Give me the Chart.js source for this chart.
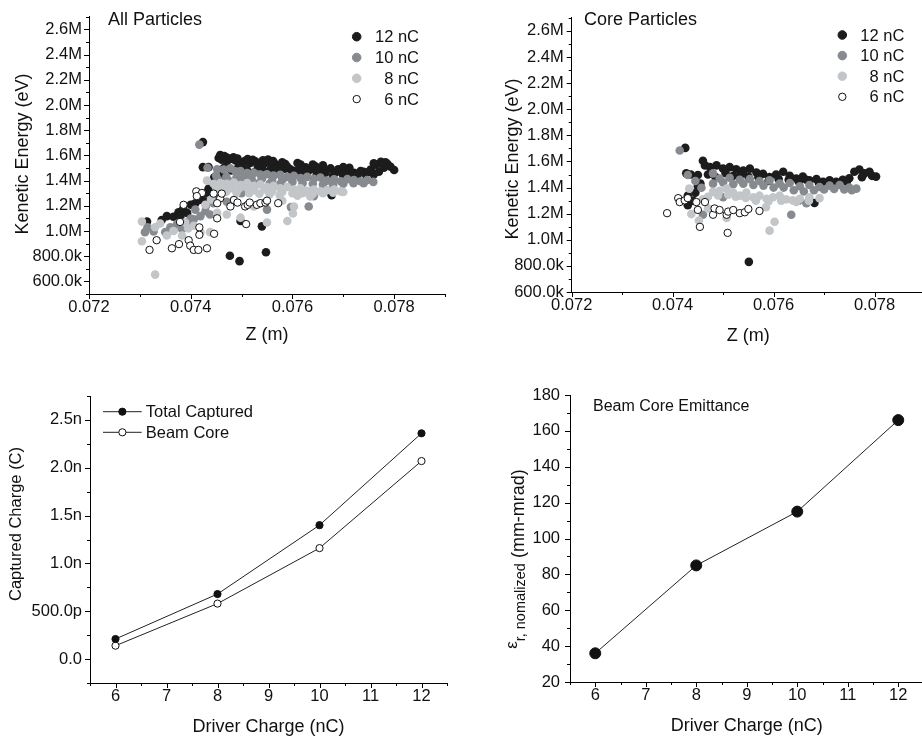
<!DOCTYPE html>
<html><head><meta charset="utf-8">
<script src="https://cdn.jsdelivr.net/npm/chart.js@4/dist/chart.umd.min.js"></script>
<style>
html,body{margin:0;padding:0;background:#fff;}
body{width:922px;height:742px;overflow:hidden;position:relative;}
canvas{position:absolute;}
</style></head><body>
<canvas id="cAll" width="460" height="350" style="left:0px;top:0px"></canvas>
<canvas id="cCore" width="470" height="350" style="left:460px;top:0px"></canvas>
<canvas id="cCharge" width="460" height="372" style="left:0px;top:370px"></canvas>
<canvas id="cEmit" width="470" height="372" style="left:460px;top:370px"></canvas>
<script>
// ---------------- DATA ----------------
const seriesLabels = ['12 nC', '10 nC', '8 nC', '6 nC'];

// All particles: [z (m), kinetic energy (MeV)]
const all12nC = [
[0.07314,1.075],[0.07343,1.088],[0.07353,1.118],[0.07366,1.113],[0.07376,1.149],[0.07385,1.175],[0.07393,1.144],[0.07400,1.208],[0.07409,1.221],[0.07417,1.246],[0.07427,1.297],[0.07435,1.336],[0.07445,1.354],[0.07432,1.233],[0.07446,1.425],[0.07455,1.412],[0.07380,1.120],[0.07420,1.260],[0.07438,1.300],
[0.07424,1.706],[0.07424,1.507],[0.07435,1.507],[0.07458,1.604],[0.07461,1.566],[0.07471,1.553],[0.07478,1.573],[0.07488,1.560],[0.07498,1.545],[0.07507,1.558],[0.07517,1.540],[0.07527,1.553],[0.07537,1.530],[0.07547,1.540],[0.07557,1.553],[0.07567,1.530],[0.07576,1.510],[0.07586,1.532],[0.07596,1.490],[0.07606,1.478],[0.07616,1.527],[0.07626,1.505],[0.07636,1.490],[0.07645,1.514],[0.07655,1.478],[0.07665,1.463],[0.07675,1.497],[0.07685,1.465],[0.07695,1.476],[0.07708,1.489],[0.07721,1.463],[0.07734,1.476],[0.07744,1.451],[0.07754,1.489],[0.07764,1.527],[0.07774,1.550],[0.07780,1.502],[0.07787,1.532],[0.07800,1.484],
[0.07465,1.500],[0.07480,1.480],[0.07494,1.510],[0.07510,1.490],[0.07524,1.465],[0.07540,1.500],[0.07555,1.480],[0.07570,1.470],[0.07585,1.495],[0.07600,1.465],[0.07615,1.460],[0.07630,1.470],[0.07648,1.450],[0.07662,1.480],[0.07680,1.440],[0.07700,1.440],[0.07715,1.455],[0.07728,1.445],[0.07740,1.470],[0.07760,1.450],[0.07770,1.470],[0.07793,1.510],
[0.07500,1.525],[0.07532,1.515],[0.07560,1.515],[0.07590,1.510],[0.07620,1.490],[0.07650,1.495],[0.07690,1.490],[0.07750,1.470],[0.07470,1.585],[0.07455,1.580],[0.07450,1.415],[0.07460,1.440],
[0.07466,1.595],[0.07484,1.585],[0.07492,1.575],[0.07512,1.572],[0.07522,1.566],[0.07542,1.562],[0.07552,1.568],[0.07562,1.556],[0.07580,1.545],[0.07610,1.540],[0.07640,1.528],[0.07660,1.522],[0.07700,1.508],[0.07712,1.502],[0.07760,1.538],[0.07783,1.546],[0.07777,1.528],
[0.07498,1.080],[0.07540,1.037],[0.07477,0.804],[0.07496,0.761],[0.07548,0.832],[0.07677,1.285]
];
const all10nC = [
[0.07417,1.686],
[0.07310,0.991],[0.07327,0.996],[0.07315,1.030],[0.07350,0.991],[0.07366,1.004],[0.07383,1.016],[0.07373,1.055],[0.07393,1.067],[0.07406,1.093],[0.07419,1.118],[0.07409,1.170],[0.07429,1.157],[0.07438,1.131],[0.07445,1.221],[0.07400,1.100],[0.07360,1.030],[0.07455,1.260],[0.07430,1.200],
[0.07433,1.502],[0.07452,1.490],[0.07465,1.489],[0.07478,1.497],[0.07488,1.475],[0.07498,1.476],[0.07511,1.460],[0.07524,1.463],[0.07537,1.448],[0.07550,1.451],[0.07563,1.440],[0.07576,1.446],[0.07590,1.430],[0.07603,1.438],[0.07616,1.420],[0.07629,1.430],[0.07642,1.415],[0.07655,1.425],[0.07668,1.400],[0.07682,1.410],[0.07695,1.395],[0.07708,1.412],[0.07721,1.405],[0.07734,1.395],[0.07747,1.405],[0.07759,1.390],
[0.07450,1.440],[0.07470,1.430],[0.07490,1.425],[0.07505,1.430],[0.07520,1.410],[0.07540,1.415],[0.07560,1.400],[0.07580,1.405],[0.07600,1.390],[0.07620,1.380],[0.07640,1.375],[0.07660,1.370],[0.07680,1.365],[0.07700,1.375],[0.07720,1.380],[0.07740,1.380],
[0.07455,1.405],[0.07475,1.398],[0.07495,1.392],[0.07515,1.388],[0.07535,1.383],[0.07555,1.375],[0.07575,1.370],
[0.07597,1.190],[0.07632,1.195],[0.07550,1.170],[0.07471,1.233],[0.07485,1.246],[0.07537,1.221],[0.07642,1.277],[0.07500,1.300],[0.07460,1.330]
];
const all8nC = [
[0.07330,0.654],[0.07304,0.919],[0.07304,1.075],[0.07330,1.030],[0.07353,0.965],[0.07366,1.000],[0.07383,0.965],[0.07389,1.067],[0.07406,1.042],[0.07419,0.991],[0.07438,0.991],[0.07395,1.020],[0.07340,1.060],
[0.07432,1.400],[0.07445,1.375],[0.07458,1.380],[0.07471,1.375],[0.07485,1.385],[0.07498,1.365],[0.07511,1.380],[0.07524,1.360],[0.07537,1.370],[0.07550,1.350],[0.07563,1.360],[0.07576,1.340],[0.07590,1.350],[0.07603,1.330],[0.07616,1.340],[0.07629,1.320],[0.07642,1.330],[0.07655,1.315],[0.07668,1.325],[0.07682,1.330],[0.07695,1.315],
[0.07450,1.345],[0.07465,1.350],[0.07480,1.340],[0.07495,1.335],[0.07510,1.345],[0.07525,1.325],[0.07545,1.330],[0.07560,1.315],[0.07580,1.310],[0.07600,1.300],[0.07620,1.300],[0.07640,1.295],[0.07660,1.300],[0.07680,1.305],[0.07700,1.310],
[0.07470,1.312],[0.07490,1.305],[0.07515,1.300],[0.07535,1.296],[0.07555,1.290],[0.07575,1.285],[0.07610,1.280],[0.07635,1.275],
[0.07429,1.208],[0.07452,1.144],[0.07471,1.131],[0.07498,1.106],[0.07550,1.067],[0.07590,1.080],[0.07601,1.139],[0.07603,1.195],[0.07524,1.195],[0.07440,1.250],[0.07580,1.240],[0.07460,1.300]
];
const all6nC = [
[0.07319,0.850],[0.07333,0.927],[0.07363,0.863],[0.07377,0.896],[0.07396,0.927],[0.07399,0.884],[0.07406,0.850],[0.07415,0.850],[0.07432,0.863],[0.07379,1.072],[0.07386,1.208],[0.07411,1.315],[0.07422,1.302],[0.07412,1.277],[0.07417,1.029],[0.07417,0.970],[0.07446,0.978],[0.07452,1.101],[0.07445,1.297],[0.07458,1.259],[0.07452,1.221],[0.07461,1.297],[0.07478,1.195],[0.07485,1.246],[0.07492,1.226],[0.07507,1.195],[0.07512,1.208],[0.07516,1.226],[0.07530,1.208],[0.07537,1.221],[0.07547,1.226],[0.07550,1.241],[0.07572,1.221],[0.07509,1.055]
];

// Core particles: [z (m), kinetic energy (MeV)]
const core12nC = [
[0.07425,1.704],[0.07427,1.509],[0.07436,1.500],[0.07460,1.606],[0.07464,1.570],[0.07450,1.496],[0.07450,1.411],[0.07430,1.338],[0.07430,1.265],[0.07440,1.300],[0.07445,1.360],[0.07455,1.430],
[0.07474,1.557],[0.07487,1.570],[0.07500,1.545],[0.07513,1.557],[0.07526,1.540],[0.07540,1.530],[0.07553,1.545],[0.07566,1.515],[0.07579,1.505],[0.07592,1.480],[0.07605,1.500],[0.07619,1.521],[0.07632,1.490],[0.07645,1.470],[0.07658,1.484],[0.07671,1.455],[0.07685,1.465],[0.07698,1.445],[0.07711,1.455],[0.07724,1.445],[0.07737,1.460],[0.07750,1.472],[0.07760,1.521],[0.07770,1.538],[0.07780,1.509],[0.07790,1.521],[0.07803,1.484],
[0.07470,1.500],[0.07485,1.480],[0.07505,1.510],[0.07520,1.490],[0.07535,1.500],[0.07550,1.485],[0.07570,1.480],[0.07590,1.450],[0.07610,1.465],[0.07630,1.460],[0.07650,1.445],[0.07665,1.460],[0.07690,1.435],[0.07720,1.430],[0.07745,1.445],[0.07775,1.480],[0.07795,1.490],
[0.07681,1.282],[0.07551,0.831]
];
const core10nC = [
[0.07414,1.684],[0.07430,1.496],[0.07457,1.399],[0.07460,1.192],[0.07480,1.509],[0.07500,1.326],[0.07635,1.192],[0.07445,1.450],
[0.07493,1.470],[0.07513,1.475],[0.07533,1.460],[0.07553,1.465],[0.07572,1.450],[0.07592,1.455],[0.07612,1.430],[0.07632,1.435],[0.07652,1.410],[0.07671,1.420],[0.07691,1.405],[0.07711,1.415],[0.07731,1.420],[0.07750,1.400],[0.07764,1.392],
[0.07480,1.430],[0.07500,1.440],[0.07520,1.425],[0.07540,1.430],[0.07560,1.420],[0.07580,1.415],[0.07600,1.400],[0.07620,1.400],[0.07640,1.380],[0.07660,1.370],[0.07680,1.380],[0.07700,1.385],[0.07720,1.390],[0.07740,1.385],[0.07755,1.380],
[0.07650,1.300],[0.07665,1.280]
];
const core8nC = [
[0.07433,1.392],[0.07437,1.197],[0.07452,1.148],[0.07470,1.240],[0.07507,1.168],[0.07592,1.070],[0.07602,1.138],[0.07585,1.250],
[0.07480,1.367],[0.07493,1.375],[0.07507,1.392],[0.07520,1.362],[0.07533,1.338],[0.07546,1.362],[0.07560,1.326],[0.07572,1.338],[0.07586,1.314],[0.07599,1.326],[0.07612,1.338],[0.07625,1.310],[0.07638,1.302],[0.07652,1.314],[0.07671,1.326],[0.07691,1.319],
[0.07490,1.340],[0.07510,1.345],[0.07525,1.330],[0.07545,1.320],[0.07565,1.300],[0.07590,1.295],[0.07615,1.300],[0.07645,1.290],[0.07670,1.300],[0.07470,1.330],[0.07460,1.310]
];
const core6nC = [
[0.07389,1.204],[0.07411,1.319],[0.07414,1.289],[0.07424,1.302],[0.07430,1.319],[0.07447,1.289],[0.07450,1.229],[0.07454,1.099],[0.07464,1.289],[0.07480,1.192],[0.07483,1.240],[0.07493,1.228],[0.07507,1.192],[0.07510,1.216],[0.07520,1.228],[0.07533,1.204],[0.07543,1.211],[0.07550,1.236],[0.07572,1.221],[0.07509,1.053]
];

// Captured charge vs driver charge
const driverCharge = [6, 8, 10, 12];               // nC
const totalCaptured = [2.1e-10, 6.8e-10, 1.40e-9, 2.36e-9]; // C
const beamCore = [1.4e-10, 5.8e-10, 1.16e-9, 2.07e-9];      // C
// Beam core emittance
const coreEmittance = [36, 85, 115, 166];          // mm-mrad

// Tick labels
const zTickValues = [0.072, 0.074, 0.076, 0.078];
const zTickLabels = ['0.072', '0.074', '0.076', '0.078'];
const eTickValues = [6e5, 8e5, 1e6, 1.2e6, 1.4e6, 1.6e6, 1.8e6, 2e6, 2.2e6, 2.4e6, 2.6e6];
const eTickLabels = ['600.0k', '800.0k', '1.0M', '1.2M', '1.4M', '1.6M', '1.8M', '2.0M', '2.2M', '2.4M', '2.6M'];
const driverTickValues = [6, 7, 8, 9, 10, 11, 12];
const driverTickLabels = ['6', '7', '8', '9', '10', '11', '12'];
const qTickValues = [0, 5e-10, 1e-9, 1.5e-9, 2e-9, 2.5e-9];
const qTickLabels = ['0.0', '500.0p', '1.0n', '1.5n', '2.0n', '2.5n'];
const emitTickValues = [20, 40, 60, 80, 100, 120, 140, 160, 180];
const emitTickLabels = ['20', '40', '60', '80', '100', '120', '140', '160', '180'];

// ---------------- HELPERS ----------------
const FONT = '"Liberation Sans", Arial, Helvetica, sans-serif';
const INK = '#111';
const TICK_SIZE = 16.5;
Chart.defaults.font.family = FONT;
Chart.defaults.color = INK;

function labeler(vals, labels, step) {
  return v => {
    for (let i = 0; i < vals.length; i++) if (Math.abs(v - vals[i]) < step * 0.01) return labels[i];
    return '';
  };
}
const toXY = arr => arr.map(p => ({ x: p[0], y: p[1] * 1e6 }));
const pairs = (xs, ys) => xs.map((x, i) => ({ x: x, y: ys[i] }));

const axisTicks = {
  id: 'axisTicks',
  afterDraw(chart) {
    const ctx = chart.ctx, a = chart.chartArea;
    const xs = chart.scales.x, ys = chart.scales.y;
    ctx.save();
    ctx.strokeStyle = '#000'; ctx.lineWidth = 1;
    xs.ticks.forEach(t => {
      const p = Math.round(xs.getPixelForValue(t.value)) + 0.5;
      const L = t.label ? 5 : 3;
      ctx.beginPath(); ctx.moveTo(p, a.bottom); ctx.lineTo(p, a.bottom + L); ctx.stroke();
    });
    ys.ticks.forEach(t => {
      const p = Math.round(ys.getPixelForValue(t.value)) + 0.5;
      const L = t.label ? 5 : 3;
      ctx.beginPath(); ctx.moveTo(a.left - L, p); ctx.lineTo(a.left, p); ctx.stroke();
    });
    ctx.restore();
  }
};

const dotLegend = {
  id: 'dotLegend',
  afterDraw(chart, args, o) {
    if (!o || !o.show) return;
    const ctx = chart.ctx;
    ctx.save();
    ctx.font = o.size + 'px ' + FONT;
    ctx.textAlign = 'right'; ctx.textBaseline = 'middle'; ctx.fillStyle = INK;
    chart.data.datasets.forEach((ds, i) => {
      const y = o.y0 + i * o.dy;
      ctx.beginPath();
      ctx.arc(o.markerX, y, ds.pointRadius, 0, Math.PI * 2);
      ctx.fillStyle = ds.backgroundColor; ctx.fill();
      ctx.lineWidth = ds.borderWidth || 1; ctx.strokeStyle = ds.borderColor; ctx.stroke();
      ctx.fillStyle = INK;
      ctx.fillText(ds.label, o.textRight, y + 1);
    });
    ctx.restore();
  }
};

const lineLegend = {
  id: 'lineLegend',
  afterDraw(chart, args, o) {
    if (!o || !o.show) return;
    const ctx = chart.ctx;
    ctx.save();
    ctx.font = o.size + 'px ' + FONT;
    ctx.textAlign = 'left'; ctx.textBaseline = 'middle';
    chart.data.datasets.forEach((ds, i) => {
      const y = o.y0 + i * o.dy;
      ctx.strokeStyle = ds.borderColor; ctx.lineWidth = ds.borderWidth;
      ctx.beginPath(); ctx.moveTo(o.x0, y); ctx.lineTo(o.x1, y); ctx.stroke();
      ctx.beginPath(); ctx.arc((o.x0 + o.x1) / 2, y, ds.pointRadius, 0, Math.PI * 2);
      ctx.fillStyle = ds.pointBackgroundColor; ctx.fill();
      ctx.lineWidth = 1; ctx.strokeStyle = ds.pointBorderColor; ctx.stroke();
      ctx.fillStyle = INK;
      ctx.fillText(ds.label, o.textX, y + 1);
    });
    ctx.restore();
  }
};

const panelText = {
  id: 'panelText',
  afterDraw(chart, args, o) {
    if (!o || !o.text) return;
    const ctx = chart.ctx;
    ctx.save();
    ctx.font = o.size + 'px ' + FONT;
    ctx.fillStyle = INK; ctx.textAlign = 'left'; ctx.textBaseline = 'middle';
    ctx.fillText(o.text, o.x, o.y);
    ctx.restore();
  }
};

const yTitle = {
  id: 'yTitle',
  afterDraw(chart, args, o) {
    if (!o || !o.parts) return;
    const ctx = chart.ctx;
    ctx.save();
    ctx.fillStyle = INK; ctx.textAlign = 'left'; ctx.textBaseline = 'alphabetic';
    let total = 0;
    o.parts.forEach(p => { ctx.font = p.size + 'px ' + FONT; total += ctx.measureText(p.text).width; });
    ctx.translate(o.x, o.cy);
    ctx.rotate(-Math.PI / 2);
    let x = -total / 2;
    o.parts.forEach(p => { ctx.font = p.size + 'px ' + FONT; ctx.fillText(p.text, x, p.dy || 0); x += ctx.measureText(p.text).width; });
    ctx.restore();
  }
};

const PLUGINS = [axisTicks, dotLegend, lineLegend, panelText, yTitle];

const seriesStyles = [
  { backgroundColor: '#1c1c1c', borderColor: '#1c1c1c', borderWidth: 0, pointRadius: 4.3, order: 4 },
  { backgroundColor: '#878b90', borderColor: '#878b90', borderWidth: 0, pointRadius: 4.3, order: 3 },
  { backgroundColor: '#c3c6c9', borderColor: '#c3c6c9', borderWidth: 0, pointRadius: 4.3, order: 2 },
  { backgroundColor: '#ffffff', borderColor: '#111111', borderWidth: 1, pointRadius: 3.7, order: 1 }
];

function linearAxis(min, max, step, vals, labels, fitKey, fitVal, tickPad, title) {
  const ax = {
    type: 'linear', min: min, max: max,
    grid: { display: false, drawTicks: false },
    border: { display: true, color: '#000', width: 1 },
    ticks: { stepSize: step, autoSkip: false, maxRotation: 0, padding: tickPad,
             font: { size: TICK_SIZE }, color: INK, callback: labeler(vals, labels, step) },
    afterFit: s => { s[fitKey] = fitVal; }
  };
  if (title) ax.title = { display: true, text: title.text, font: { size: 18 }, color: INK, padding: { top: 0, bottom: title.pb } };
  return ax;
}

function scatterChart(id, sets, yMin, lay) {
  new Chart(document.getElementById(id), {
    type: 'scatter',
    data: {
      datasets: sets.map((s, i) => Object.assign({ label: seriesLabels[i], data: toXY(s), pointHoverRadius: 4 }, seriesStyles[i]))
    },
    options: {
      responsive: false, animation: false, devicePixelRatio: 1,
      layout: { padding: lay.padding },
      scales: {
        x: linearAxis(0.072, 0.079, 0.001, zTickValues, zTickLabels, 'height', lay.xh, 4, { text: 'Z (m)', pb: lay.xpb }),
        y: linearAxis(yMin, 2.7e6, 1e5, eTickValues, eTickLabels, 'width', lay.yw, lay.ypad, null)
      },
      plugins: {
        legend: { display: false }, tooltip: { enabled: false },
        dotLegend: lay.legend,
        panelText: lay.panel,
        yTitle: lay.ytitle
      }
    },
    plugins: PLUGINS
  });
}

scatterChart('cAll', [all12nC, all10nC, all8nC, all6nC], 5e5, {
  padding: { left: 0, top: 6, right: 15, bottom: 0 }, xh: 56, yw: 89, ypad: 7, xpb: 4,
  legend: { show: true, markerX: 356.7, textRight: 419, y0: 36.7, dy: 20.8, size: 16.5 },
  panel: { text: 'All Particles', x: 108, y: 20, size: 18 },
  ytitle: { x: 28, cy: 154, parts: [{ text: 'Kenetic Energy (eV)', size: 18 }] }
});
scatterChart('cCore', [core12nC, core10nC, core8nC, core6nC], 6e5, {
  padding: { left: 0, top: 4, right: 5, bottom: 0 }, xh: 58, yw: 111.7, ypad: 8, xpb: 3,
  legend: { show: true, markerX: 382.3, textRight: 444.3, y0: 35, dy: 20.6, size: 16.5 },
  panel: { text: 'Core Particles', x: 124, y: 20, size: 18 },
  ytitle: { x: 58, cy: 159, parts: [{ text: 'Kenetic Energy (eV)', size: 18 }] }
});

new Chart(document.getElementById('cCharge'), {
  type: 'scatter',
  data: {
    datasets: [
      { label: 'Total Captured', data: pairs(driverCharge, totalCaptured), showLine: true,
        borderColor: '#222', borderWidth: 1, pointRadius: 3.6, pointBackgroundColor: '#111', pointBorderColor: '#111', pointBorderWidth: 1 },
      { label: 'Beam Core', data: pairs(driverCharge, beamCore), showLine: true,
        borderColor: '#222', borderWidth: 1, pointRadius: 3.6, pointBackgroundColor: '#fff', pointBorderColor: '#111', pointBorderWidth: 1 }
    ]
  },
  options: {
    responsive: false, animation: false, devicePixelRatio: 1,
    layout: { padding: { left: 0, top: 26, right: 13, bottom: 0 } },
    scales: {
      x: linearAxis(5.5, 12.5, 0.5, driverTickValues, driverTickLabels, 'height', 59, 4, { text: 'Driver Charge (nC)', pb: 4 }),
      y: linearAxis(-2.5e-10, 2.75e-9, 2.5e-10, qTickValues, qTickLabels, 'width', 90, 8, null)
    },
    plugins: {
      legend: { display: false }, tooltip: { enabled: false },
      lineLegend: { show: true, x0: 103, x1: 141.7, textX: 145.7, y0: 41.7, dy: 20.6, size: 16.5 },
      yTitle: { x: 20.5, cy: 154, parts: [{ text: 'Captured Charge (C)', size: 16.5 }] }
    }
  },
  plugins: PLUGINS
});

new Chart(document.getElementById('cEmit'), {
  type: 'scatter',
  data: {
    datasets: [
      { label: 'Beam Core Emittance', data: pairs(driverCharge, coreEmittance), showLine: true,
        borderColor: '#222', borderWidth: 1, pointRadius: 5.5, pointBackgroundColor: '#111', pointBorderColor: '#111', pointBorderWidth: 1 }
    ]
  },
  options: {
    responsive: false, animation: false, devicePixelRatio: 1,
    layout: { padding: { left: 0, top: 25, right: 5, bottom: 0 } },
    scales: {
      x: linearAxis(5.5, 12.5, 0.5, driverTickValues, driverTickLabels, 'height', 60, 4, { text: 'Driver Charge (nC)', pb: 5 }),
      y: linearAxis(20, 180, 10, emitTickValues, emitTickLabels, 'width', 110, 10, null)
    },
    plugins: {
      legend: { display: false }, tooltip: { enabled: false },
      panelText: { text: 'Beam Core Emittance', x: 133, y: 37, size: 16 },
      yTitle: { x: 64, cy: 189, parts: [{ text: 'ε', size: 17, dy: -7 }, { text: 'r, nomalized', size: 14.5, dy: 1 }, { text: ' (mm-mrad)', size: 18, dy: 0 }] }
    }
  },
  plugins: PLUGINS
});
</script>
</body></html>
